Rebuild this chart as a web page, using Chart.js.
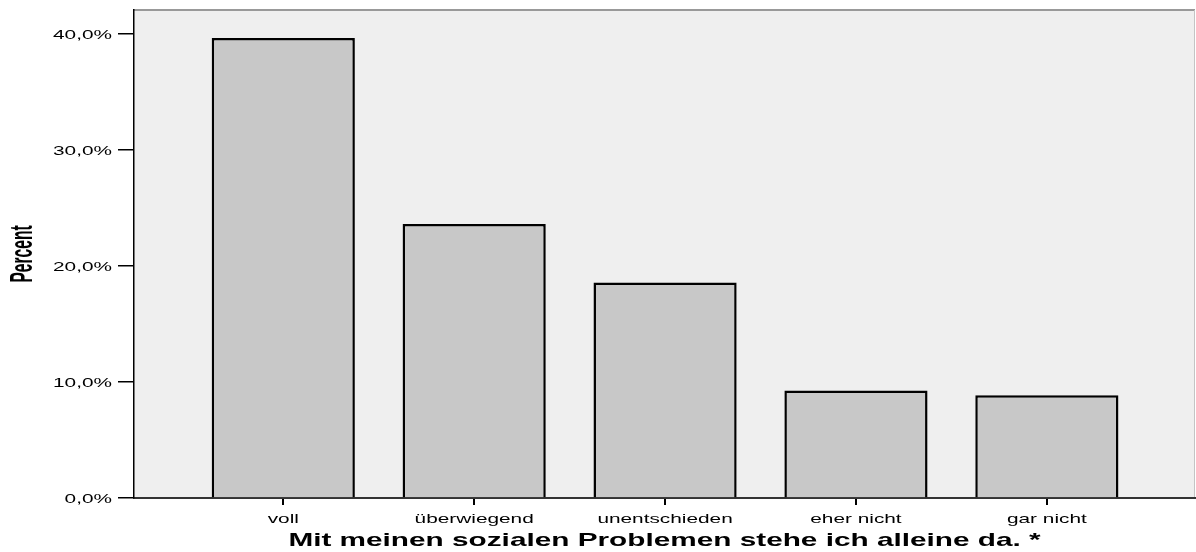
<!DOCTYPE html>
<html>
<head>
<meta charset="utf-8">
<script src="https://cdn.jsdelivr.net/npm/chart.js@4/dist/chart.umd.min.js"></script>
<style>
  body { margin: 0; background: #fff; }
  #wrap { width: 1196px; height: 552px; }
</style>
</head>
<body>
<div id="wrap"><canvas id="bar-chart" width="1196" height="552"></canvas></div>
<script>
const categories = ['voll', 'überwiegend', 'unentschieden', 'eher nicht', 'gar nicht']
const percents = [39.66, 23.63, 18.58, 9.27, 8.86]
const yTickValues = [0, 10, 20, 30, 40]
const xTitle = 'Mit meinen sozialen Problemen stehe ich alleine da. *'
const yTitle = 'Percent'

// the SPSS export is stretched sideways, so all text gets this x-scale
const SX = 1.6
const FONT = "'Liberation Sans', Arial, sans-serif"

function fmtPercent(v) {
  return v.toFixed(1).replace('.', ',') + '%'
}

function drawText(ctx, text, x, y, opts) {
  ctx.save()
  ctx.translate(x, y)
  ctx.scale(SX, 1)
  if (opts.rotate) ctx.rotate(opts.rotate)
  if (opts.squeeze) ctx.scale(opts.squeeze, 1)
  ctx.font = opts.font
  ctx.fillStyle = '#000'
  ctx.textAlign = opts.align || 'center'
  ctx.textBaseline = 'alphabetic'
  ctx.fillText(text, 0, 0)
  ctx.restore()
}

const plotFrame = {
  id: 'plotFrame',
  beforeDraw(chart) {
    const { ctx, chartArea: a } = chart
    ctx.save()
    ctx.fillStyle = '#efefef'
    ctx.fillRect(a.left, a.top, a.right - a.left, a.bottom - a.top)
    ctx.strokeStyle = '#999'
    ctx.lineWidth = 2
    ctx.beginPath()
    ctx.moveTo(a.left, a.top)
    ctx.lineTo(a.right, a.top)
    ctx.stroke()
    ctx.strokeStyle = '#c4c4c4'
    ctx.lineWidth = 1
    ctx.beginPath()
    ctx.moveTo(a.right - 0.5, a.top)
    ctx.lineTo(a.right - 0.5, a.bottom)
    ctx.stroke()
    ctx.restore()
  },
  afterDraw(chart) {
    const { ctx, chartArea: a } = chart
    const x = chart.scales.x
    const y = chart.scales.y
    y.ticks.forEach((t, i) => {
      drawText(ctx, fmtPercent(t.value), a.left - 22, y.getPixelForTick(i) + 4.6,
        { font: '13px ' + FONT, align: 'right' })
    })
    x.ticks.forEach((t, i) => {
      drawText(ctx, categories[t.value], x.getPixelForTick(i), a.bottom + 24.5,
        { font: '13px ' + FONT })
    })
    drawText(ctx, xTitle, (a.left + a.right) / 2, a.bottom + 48.3,
      { font: 'bold 18.6px ' + FONT })
    drawText(ctx, yTitle, 32, (a.top + a.bottom) / 2,
      { font: 'bold 19.5px ' + FONT, rotate: -Math.PI / 2, squeeze: 0.8 })
  }
}

let ctx = document.getElementById('bar-chart')
let myBarChart = new Chart(ctx, {
  type: 'bar',
  data: {
    datasets: [{
      data: categories.map((c, i) => ({ x: i, y: percents[i] })),
      backgroundColor: '#c8c8c8',
      borderColor: '#000',
      borderWidth: 2.5,
      borderSkipped: 'bottom',
      categoryPercentage: 0.75,
      barPercentage: 1
    }]
  },
  options: {
    responsive: false,
    animation: false,
    layout: { padding: { left: 0, right: 1, top: 10, bottom: 0 } },
    plugins: {
      legend: { display: false },
      tooltip: { enabled: false }
    },
    scales: {
      x: {
        type: 'linear',
        offset: false,
        min: -0.782,
        max: 4.776,
        afterFit: (scale) => { scale.height = 54 },
        afterBuildTicks: (scale) => {
          scale.ticks = categories.map((c, i) => ({ value: i }))
        },
        ticks: { display: false, stepSize: 1, includeBounds: false },
        grid: { offset: false, drawOnChartArea: false, tickLength: 7, color: '#000', lineWidth: 2 },
        border: { color: '#333', width: 2 }
      },
      y: {
        min: 0,
        max: 42.07,
        afterFit: (scale) => { scale.width = 134 },
        afterBuildTicks: (scale) => {
          scale.ticks = yTickValues.map(v => ({ value: v }))
        },
        ticks: { display: false, stepSize: 10, includeBounds: false },
        grid: { drawOnChartArea: false, tickLength: 16, color: '#000', lineWidth: 1.5 },
        border: { color: '#000', width: 1.5 }
      }
    }
  },
  plugins: [plotFrame]
})
</script>
</body>
</html>
